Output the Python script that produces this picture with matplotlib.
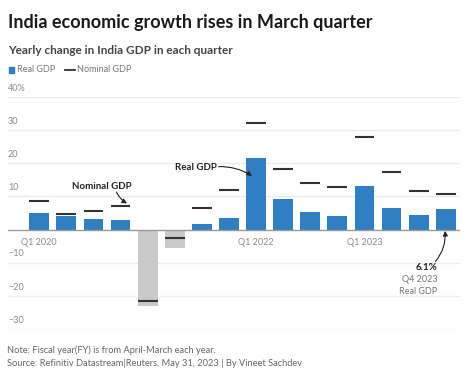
import numpy as np
import matplotlib
matplotlib.use("Agg")
import matplotlib.pyplot as plt
from matplotlib.patches import Rectangle
from matplotlib.lines import Line2D
import matplotlib.transforms as mtransforms

plt.rcParams['font.family'] = ['Lato', 'DejaVu Sans']

# Quarterly yearly change, Q1 2020 .. Q4 2023 (fiscal quarters)
real_gdp = [5.0, 4.2, 3.3, 2.8, -23.1, -5.6, 1.6, 3.4,
            21.6, 9.2, 5.3, 4.0, 13.2, 6.4, 4.4, 6.1]
nominal_gdp = [8.5, 4.8, 5.5, 7.2, -21.5, -2.6, 6.4, 11.9,
               32.1, 18.4, 14.2, 12.9, 27.9, 17.5, 11.6, 10.8]
xtick_pos = [0, 8, 12]
xtick_labels = ["Q1 2020", "Q1 2022", "Q1 2023"]
ytick_vals = [40, 30, 20, 10, -10, -20, -30]
ytick_labels = ["40%", "30", "20", "10", "\u221210", "\u221220", "\u221230"]

BLUE = "#2f7fc2"
GREY = "#c9c9c9"
DASH = "#333333"

fig = plt.figure(figsize=(4.74, 3.74), dpi=100)
fig.patch.set_facecolor("white")
ax = fig.add_axes([0.0169, 0.1203, 0.9536, 0.6203])

x = np.arange(len(real_gdp))
w = 0.73
colors = [BLUE if v >= 0 else GREY for v in real_gdp]
ax.bar(x, real_gdp, width=w, color=colors, zorder=2)
ax.hlines(nominal_gdp, x - w / 2, x + w / 2, color=DASH, lw=1.5, zorder=3)

ax.set_xlim(-1.151, 15.524)
ax.set_ylim(-30, 40)
for s in ax.spines.values():
    s.set_visible(False)
ax.set_xticks([])
ax.set_yticks([])

# grid lines with labels sitting above them
trans = mtransforms.blended_transform_factory(ax.transAxes, ax.transData)
for v, lab in zip(ytick_vals, ytick_labels):
    ax.axhline(v, color="#ececec", lw=1, zorder=0)
    ax.text(0.0, v + 1.3, lab, transform=trans, ha="left", va="bottom",
            fontsize=6.5, color="#8a8a8a")
ax.axhline(0, color="#9a9a9a", lw=1, zorder=4)

for p, lab in zip(xtick_pos, xtick_labels):
    ax.text(p, -3.8, lab, ha="center", va="center", fontsize=6.5, color="#8a8a8a")

# annotations
arrow = dict(arrowstyle="-|>", color="#222222", lw=0.8, mutation_scale=7,
             shrinkA=0, shrinkB=0)

ax.text(2.32, 13.0, "Nominal GDP", ha="center", va="center", fontsize=7,
        fontweight="bold", color="#222222")
ax.annotate("", xy=(3.24, 7.9), xytext=(2.85, 11.3),
            arrowprops=dict(arrow, connectionstyle="arc3,rad=0.15"))

ax.text(6.56, 18.7, "Real GDP", ha="right", va="center", fontsize=7,
        fontweight="bold", color="#222222")
ax.annotate("", xy=(7.85, 16.2), xytext=(6.62, 19.0),
            arrowprops=dict(arrow, connectionstyle="arc3,rad=-0.15"))

ax.text(14.68, -11.3, "6.1%", ha="right", va="center", fontsize=7,
        fontweight="bold", color="#222222")
ax.text(14.68, -15.0, "Q4 2023", ha="right", va="center", fontsize=6.5, color="#777777")
ax.text(14.68, -18.6, "Real GDP", ha="right", va="center", fontsize=6.5, color="#777777")
ax.annotate("", xy=(14.97, -0.4), xytext=(14.62, -9.6),
            arrowprops=dict(arrow, connectionstyle="arc3,rad=0.2"))

# titles
fig.text(0.0169, 0.941, "India economic growth rises in March quarter",
         ha="left", va="center", fontsize=13, fontweight="bold", color="#1a1a1a")
fig.text(0.0169, 0.864, "Yearly change in India GDP in each quarter",
         ha="left", va="center", fontsize=8.5, fontweight="bold", color="#444444")

# legend
fig.patches.append(Rectangle((9 / 474, 1 - 72.5 / 374), 5 / 474, 5 / 374,
                             transform=fig.transFigure, color=BLUE))
fig.text(17 / 474, 1 - 70 / 374, "Real GDP", ha="left", va="center",
         fontsize=6.5, color="#777777")
fig.lines.append(Line2D([65 / 474, 75 / 474], [1 - 70 / 374, 1 - 70 / 374],
                        transform=fig.transFigure, color=DASH, lw=1.3))
fig.text(77 / 474, 1 - 70 / 374, "Nominal GDP", ha="left", va="center",
         fontsize=6.5, color="#777777")

# footer
fig.text(0.0148, 1 - 350 / 374, "Note: Fiscal year(FY) is from April-March each year.",
         ha="left", va="center", fontsize=6.65, color="#666666")
fig.text(0.0148, 1 - 363 / 374,
         "Source: Refinitiv Datastream|Reuters, May 31, 2023 | By Vineet Sachdev",
         ha="left", va="center", fontsize=6.65, color="#666666")

fig.savefig("out.png", dpi=100, facecolor="white")
